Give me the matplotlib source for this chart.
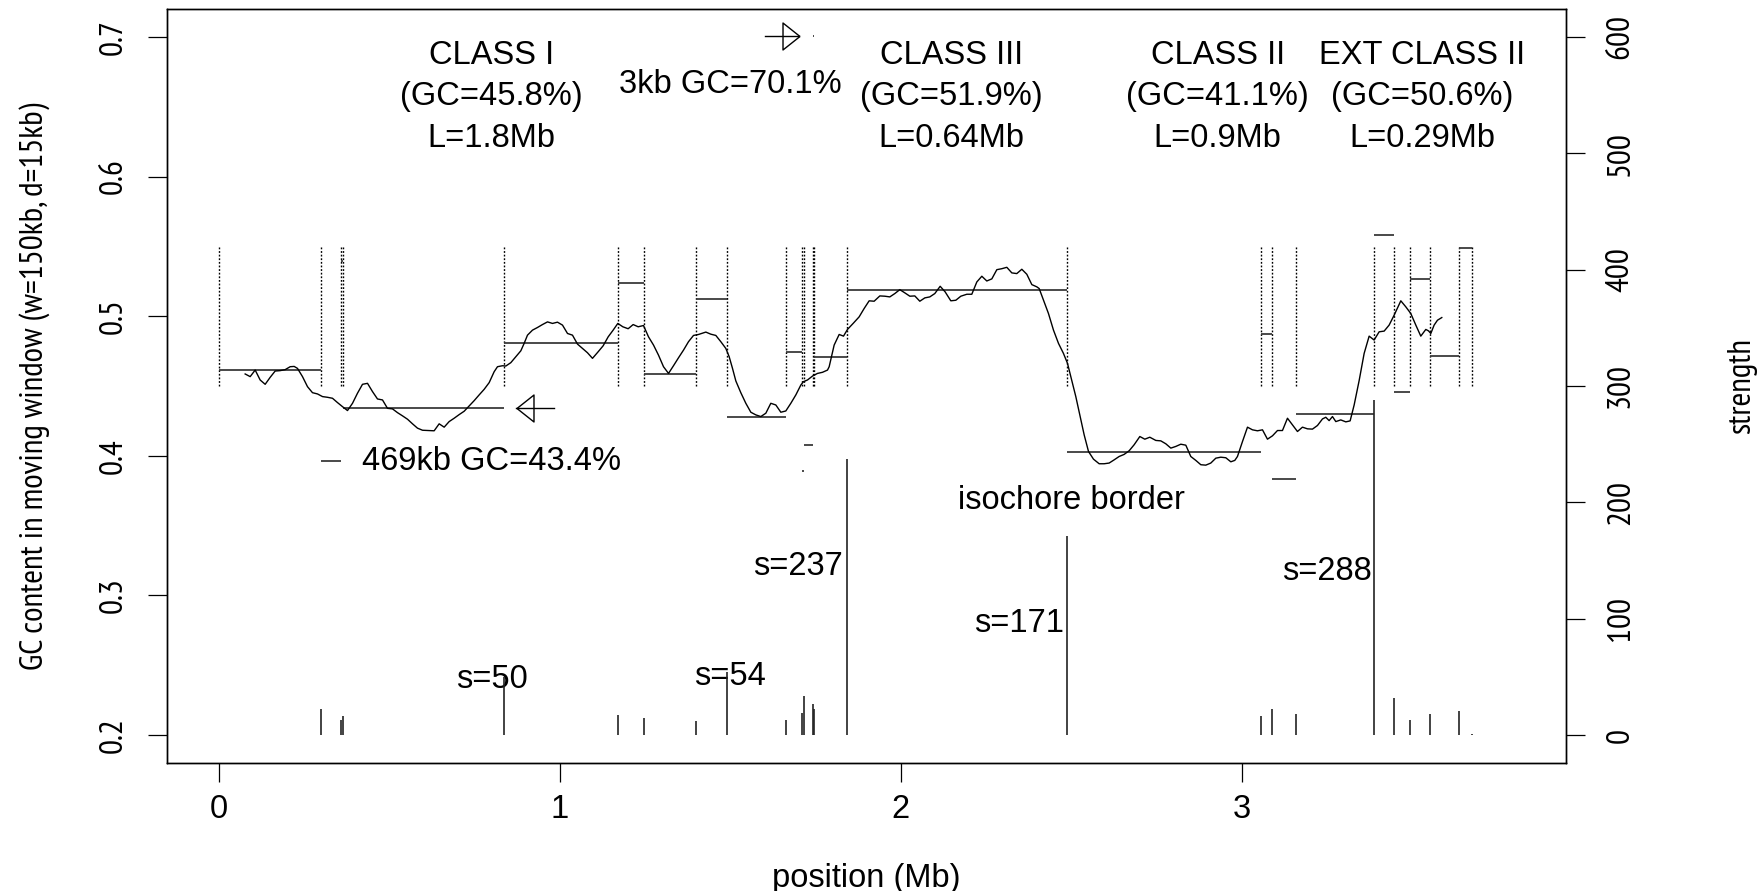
import matplotlib
matplotlib.use('Agg')
import matplotlib.pyplot as plt
from matplotlib import font_manager
from matplotlib.font_manager import FontProperties
from matplotlib.textpath import TextPath

# GC content in a sliding window (w=150kb, d=15kb), position in Mb
gc_x = [0.0772, 0.0919, 0.1066, 0.1212, 0.1359, 0.1506, 0.1652, 0.1799, 0.1946, 0.2092,
        0.2210, 0.2307, 0.2454, 0.2601, 0.2747, 0.2894, 0.3041, 0.3187, 0.3334, 0.3481,
        0.3627, 0.3774, 0.3921, 0.4067, 0.4214, 0.4361, 0.4507, 0.4654, 0.4801, 0.4947,
        0.5094, 0.5241, 0.5388, 0.5534, 0.5681, 0.5827, 0.5974, 0.6121, 0.6316, 0.6463,
        0.6610, 0.6756, 0.6903, 0.7050, 0.7196, 0.7343, 0.7490, 0.7636, 0.7783, 0.7930,
        0.8076, 0.8174, 0.8321, 0.8419, 0.8565, 0.8712, 0.8859, 0.8956, 0.9054, 0.9201,
        0.9348, 0.9494, 0.9641, 0.9788, 0.9934, 1.0081, 1.0228, 1.0374, 1.0521, 1.0668,
        1.0814, 1.0961, 1.1127, 1.1274, 1.1421, 1.1567, 1.1704, 1.1851, 1.2007, 1.2154,
        1.2301, 1.2457, 1.2604, 1.2751, 1.2897, 1.3044, 1.3191, 1.3337, 1.3484, 1.3631,
        1.3777, 1.3924, 1.4071, 1.4286, 1.4432, 1.4579, 1.4726, 1.4872, 1.4970, 1.5068,
        1.5166, 1.5312, 1.5459, 1.5606, 1.5752, 1.5899, 1.6046, 1.6192, 1.6339, 1.6486,
        1.6632, 1.6779, 1.6926, 1.7073, 1.7151, 1.7268, 1.7415, 1.7561, 1.7708, 1.7855,
        1.7904, 1.8050, 1.8197, 1.8324, 1.8441, 1.8607, 1.8783, 1.8930, 1.9077, 1.9223,
        1.9390, 1.9536, 1.9683, 1.9830, 1.9976, 2.0123, 2.0270, 2.0416, 2.0563, 2.0710,
        2.0856, 2.1003, 2.1160, 2.1306, 2.1472, 2.1619, 2.1766, 2.1942, 2.2088, 2.2235,
        2.2382, 2.2528, 2.2675, 2.2822, 2.2968, 2.3115, 2.3262, 2.3408, 2.3555, 2.3702,
        2.3849, 2.3995, 2.4064, 2.4191, 2.4337, 2.4484, 2.4631, 2.4777, 2.4895, 2.4993,
        2.5139, 2.5266, 2.5384, 2.5511, 2.5657, 2.5824, 2.5970, 2.6117, 2.6264, 2.6410,
        2.6557, 2.6704, 2.6850, 2.7017, 2.7163, 2.7310, 2.7486, 2.7632, 2.7779, 2.7926,
        2.8072, 2.8219, 2.8366, 2.8512, 2.8659, 2.8806, 2.8952, 2.9099, 2.9246, 2.9392,
        2.9539, 2.9686, 2.9803, 2.9881, 3.0028, 3.0175, 3.0321, 3.0468, 3.0615, 3.0761,
        3.0908, 3.1055, 3.1201, 3.1348, 3.1495, 3.1641, 3.1788, 3.1935, 3.2081, 3.2228,
        3.2375, 3.2472, 3.2570, 3.2668, 3.2766, 3.2912, 3.3059, 3.3186, 3.3304, 3.3450,
        3.3597, 3.3744, 3.3890, 3.4037, 3.4184, 3.4330, 3.4477, 3.4673, 3.4819, 3.4966,
        3.5113, 3.5259, 3.5406, 3.5484, 3.5553, 3.5650, 3.5748, 3.5875]
gc_y = [0.4586, 0.4567, 0.4614, 0.4543, 0.4512, 0.4562, 0.4607, 0.4610, 0.4617, 0.4638,
        0.4640, 0.4626, 0.4567, 0.4495, 0.4452, 0.4443, 0.4424, 0.4419, 0.4412, 0.4381,
        0.4352, 0.4324, 0.4376, 0.4448, 0.4512, 0.4519, 0.4460, 0.4407, 0.4400, 0.4340,
        0.4336, 0.4309, 0.4286, 0.4262, 0.4229, 0.4198, 0.4183, 0.4181, 0.4179, 0.4229,
        0.4205, 0.4245, 0.4269, 0.4295, 0.4319, 0.4357, 0.4395, 0.4436, 0.4476, 0.4524,
        0.4602, 0.4638, 0.4645, 0.4643, 0.4667, 0.4710, 0.4752, 0.4805, 0.4864, 0.4900,
        0.4919, 0.4940, 0.4959, 0.4948, 0.4957, 0.4936, 0.4876, 0.4864, 0.4800, 0.4769,
        0.4738, 0.4698, 0.4745, 0.4788, 0.4852, 0.4900, 0.4948, 0.4924, 0.4910, 0.4940,
        0.4924, 0.4933, 0.4852, 0.4793, 0.4721, 0.4638, 0.4590, 0.4645, 0.4702, 0.4757,
        0.4817, 0.4862, 0.4869, 0.4886, 0.4871, 0.4862, 0.4817, 0.4769, 0.4710, 0.4626,
        0.4536, 0.4452, 0.4376, 0.4312, 0.4293, 0.4281, 0.4305, 0.4376, 0.4364, 0.4312,
        0.4321, 0.4376, 0.4436, 0.4507, 0.4531, 0.4543, 0.4571, 0.4590, 0.4598, 0.4614,
        0.4638, 0.4793, 0.4869, 0.4857, 0.4905, 0.4948, 0.4995, 0.5055, 0.5110, 0.5107,
        0.5145, 0.5143, 0.5138, 0.5162, 0.5190, 0.5167, 0.5143, 0.5145, 0.5107, 0.5131,
        0.5138, 0.5162, 0.5214, 0.5174, 0.5110, 0.5114, 0.5143, 0.5157, 0.5157, 0.5245,
        0.5286, 0.5252, 0.5267, 0.5333, 0.5340, 0.5350, 0.5310, 0.5305, 0.5336, 0.5300,
        0.5226, 0.5210, 0.5198, 0.5114, 0.5019, 0.4900, 0.4805, 0.4733, 0.4662, 0.4567,
        0.4424, 0.4281, 0.4150, 0.4031, 0.3976, 0.3943, 0.3943, 0.3948, 0.3971, 0.3995,
        0.4010, 0.4036, 0.4079, 0.4138, 0.4119, 0.4133, 0.4110, 0.4107, 0.4086, 0.4055,
        0.4067, 0.4083, 0.4076, 0.3995, 0.3967, 0.3936, 0.3933, 0.3948, 0.3983, 0.3990,
        0.3986, 0.3957, 0.3967, 0.3995, 0.4102, 0.4205, 0.4186, 0.4179, 0.4186, 0.4119,
        0.4143, 0.4181, 0.4181, 0.4269, 0.4221, 0.4174, 0.4205, 0.4193, 0.4191, 0.4217,
        0.4264, 0.4276, 0.4252, 0.4281, 0.4245, 0.4257, 0.4243, 0.4250, 0.4364, 0.4538,
        0.4733, 0.4857, 0.4829, 0.4888, 0.4893, 0.4936, 0.5007, 0.5110, 0.5067, 0.5019,
        0.4936, 0.4857, 0.4905, 0.4895, 0.4876, 0.4936, 0.4971, 0.4990]

# segmentation borders (Mb), segment mean GC, border strength
borders = [0.0, 0.301, 0.357, 0.365, 0.836, 1.171, 1.246, 1.399, 1.492, 1.664, 1.711,
           1.716, 1.742, 1.747, 1.843, 2.487, 3.056, 3.090, 3.161, 3.388, 3.446, 3.494,
           3.554, 3.639, 3.676]
seg_gc = [0.4612, 0.3966, 0.5395, 0.4345, 0.4805, 0.5241, 0.4588, 0.5124, 0.4279, 0.4741,
          0.3888, 0.4079, 0.701, 0.4709, 0.5188, 0.4024, 0.4874, 0.3836, 0.4298, 0.5584,
          0.4457, 0.5267, 0.4712, 0.5491]
strength = [22.5, 12.5, 16, 50, 17.4, 14.6, 12, 54, 12.9, 19, 33.7, 26.8, 22, 237, 171,
            16.5, 22.3, 18.3, 288, 32, 12.5, 18, 20.8, 1]

classes = ['CLASS I', 'CLASS III', 'CLASS II', 'EXT CLASS II']
class_x = [0.80, 2.15, 2.93, 3.53]
class_gc = ['(GC=45.8%)', '(GC=51.9%)', '(GC=41.1%)', '(GC=50.6%)']
class_len = ['L=1.8Mb', 'L=0.64Mb', 'L=0.9Mb', 'L=0.29Mb']

YLABEL = 'GC content in moving window (w=150kb, d=15kb)'
FS = 23.5

names = {f.name for f in font_manager.fontManager.ttflist}
FONT = 'Liberation Sans' if 'Liberation Sans' in names else 'DejaVu Sans'


def text_width(fam, s):
    return TextPath((0, 0), s, size=FS, prop=FontProperties(family=fam)).get_extents().width


# vertical texts in the reference are condensed (~0.79 of normal width)
base_w = text_width(FONT, YLABEL)
narrow_opts = ['Liberation Sans Narrow', 'Arial Narrow', 'Archivo Narrow', 'PT Sans Narrow',
               'Roboto Condensed', 'Pragati Narrow', 'Fira Sans Condensed', 'Open Sans Condensed',
               'IBM Plex Sans Condensed', 'Asap Condensed', 'Encode Sans Condensed',
               'Barlow Semi Condensed', 'Saira Semi Condensed']
NARROW, VSIZE, best = FONT, FS * 0.82, 1e9
for fam in narrow_opts:
    if fam in names:
        r = text_width(fam, YLABEL) / base_w
        if abs(r - 0.79) < best:
            best = abs(r - 0.79)
            NARROW = fam
            VSIZE = max(0.88 * FS, min(1.12 * FS, FS * 0.79 / r))

plt.rcParams['font.family'] = FONT
plt.rcParams['font.size'] = FS

fig = plt.figure(figsize=(17.6, 8.91), dpi=100)
ax = fig.add_axes([0.0949, 0.1437, 0.7949, 0.8462])
ax2 = ax.twinx()

ax.set_xlim(-0.152, 3.952)
ax.set_ylim(0.18, 0.72)
ax2.set_ylim(-24, 624)

# dotted border lines
ax.vlines(borders, 0.45, 0.55, colors='black', linestyles=(0, (1.3, 1.3)), linewidth=1.0)
# segment means
ax.hlines(seg_gc, borders[:-1], borders[1:], colors='#3a3a3a', linewidth=1.3)
# moving-window GC
ax.plot(gc_x, gc_y, color='black', linewidth=1.0)
# border strengths
ax2.vlines(borders[1:], 0, strength, colors='#222222', linewidth=1.2)

# arrows marking the 469kb and 3kb segments
left_tri = [(-0.315, 0), (0.315, 0.5), (0.315, -0.5), (-0.315, 0)]
right_tri = [(0.315, 0), (-0.315, 0.5), (-0.315, -0.5), (0.315, 0)]
ax.plot([0.873, 0.982], [seg_gc[3]] * 2, color='black', linewidth=1.0)
ax.plot([0.898], [seg_gc[3]], marker=left_tri, markersize=19.4, mfc='none', mec='black', mew=1.0)
ax.plot([1.602, 1.702], [seg_gc[12]] * 2, color='black', linewidth=1.0)
ax.plot([1.677], [seg_gc[12]], marker=right_tri, markersize=19.4, mfc='none', mec='black', mew=1.0)

for name, x, g, l in zip(classes, class_x, class_gc, class_len):
    ax.text(x, 0.687, name, ha='center', va='center')
    ax.text(x, 0.657, g, ha='center', va='center')
    ax.text(x, 0.627, l, ha='center', va='center')

ax.text(0.80, 0.396, '469kb GC=43.4%', ha='center', va='center')
ax.text(1.50, 0.666, '3kb GC=70.1%', ha='center', va='center')
ax.text(2.50, 0.368, 'isochore border', ha='center', va='center')
ax.text(1.70, 0.3208, 's=237', ha='center', va='center')
ax.text(2.347, 0.2798, 's=171', ha='center', va='center')
ax.text(3.252, 0.3168, 's=288', ha='center', va='center')
ax.text(0.80, 0.2398, 's=50', ha='center', va='center')
ax.text(1.50, 0.2418, 's=54', ha='center', va='center')

ax.set_xticks([0, 1, 2, 3])
ax.set_yticks([0.2, 0.3, 0.4, 0.5, 0.6, 0.7])
ax.set_yticklabels(['0.2', '0.3', '0.4', '0.5', '0.6', '0.7'], rotation=90, va='center',
                   family=NARROW, fontsize=VSIZE)
ax2.set_yticks([0, 100, 200, 300, 400, 500, 600])
ax2.set_yticklabels(['0', '100', '200', '300', '400', '500', '600'], rotation=90, va='center',
                    family=NARROW, fontsize=VSIZE)
ax.tick_params(axis='x', length=13.5, width=0.9, pad=9, labelsize=FS)
ax.tick_params(axis='y', length=13.5, width=0.9, pad=14)
ax2.tick_params(axis='y', length=13.5, width=0.9, pad=15)

ax.set_xlabel('position (Mb)', fontsize=FS, labelpad=27)
ax.set_ylabel(YLABEL, family=NARROW, fontsize=VSIZE, labelpad=35)
ax2.set_ylabel('strength', family=NARROW, fontsize=VSIZE, labelpad=66)

for a in (ax, ax2):
    for s in a.spines.values():
        s.set_linewidth(1.0)

fig.savefig('out.png', dpi=100)
